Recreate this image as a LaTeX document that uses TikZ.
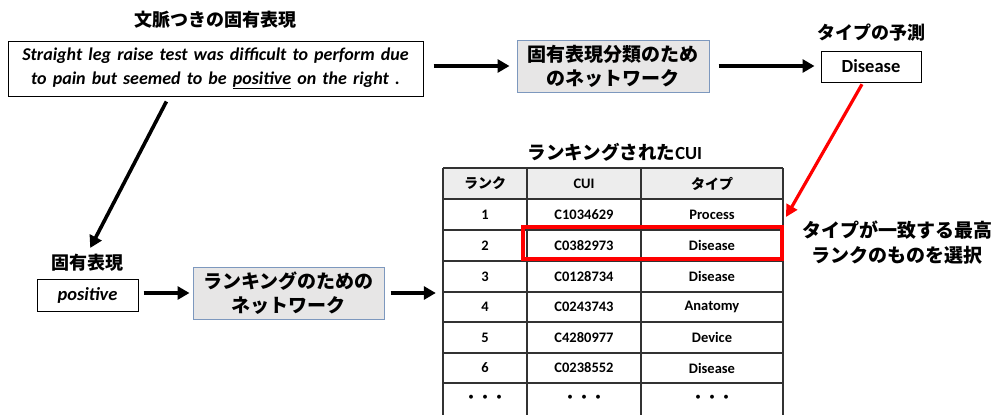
\documentclass[tikz,border=0pt]{standalone}
\usepackage{fontspec}
\setmainfont{Carlito}
\newfontfamily\cwide{Carlito}[WordSpace=1.5]
\newfontfamily\jp{Noto Sans CJK JP}
\usetikzlibrary{arrows.meta}
\definecolor{netgray}{RGB}{231,230,230}
\definecolor{netblue}{RGB}{125,152,190}
\definecolor{hdrgray}{RGB}{237,237,237}
\definecolor{gridc}{RGB}{50,50,50}
\begin{document}
\begin{tikzpicture}[x=1pt,y=-1pt,
 arr/.style={line width=3.6pt, -{Triangle[length=12pt,width=13pt]}},
 redarr/.style={line width=3.2pt, red, -{Triangle[length=12pt,width=12pt]}},
 plainbox/.style={draw, line width=1pt, inner sep=0pt, align=center},
 netbox/.style={draw=netblue, fill=netgray, line width=1pt, inner sep=0pt, align=center, font=\jp\bfseries\fontsize{19}{24}\selectfont},
 jplabel/.style={font=\jp\bfseries\fontsize{18}{24}\selectfont, inner sep=0pt, align=center},
 cell/.style={font=\bfseries\fontsize{14.5}{16}\selectfont, inner sep=0pt},
 jcell/.style={font=\jp\bfseries\fontsize{14}{16}\selectfont, inner sep=0pt},
 gridline/.style={draw=gridc, line width=1.2pt},
]
\useasboundingbox (0,0) rectangle (995,415);

% top row
\node[jplabel] (ctxt) at (215,20) {文脈つきの固有表現};
\node[plainbox, minimum width=415pt, minimum height=55pt, font=\cwide\bfseries\itshape\fontsize{18}{24}\selectfont] (ctx) at (215.5,68.5)
  {Straight leg raise test was difficult to perform due\\to pain but seemed to be \underline{positive} on the right .};
\node[netbox, minimum width=192pt, minimum height=52pt] (net1) at (613,66) {固有表現分類のため\\のネットワーク};
\node[jplabel] (predt) at (871,33) {タイプの予測};
\node[plainbox, minimum width=100pt, minimum height=31pt, font=\bfseries\fontsize{18.5}{20}\selectfont] (pred) at (871,66.5) {Disease};

% bottom left
\node[jplabel] (posl) at (87,263) {固有表現};
\node[plainbox, minimum width=101pt, minimum height=32pt, font=\bfseries\itshape\fontsize{18.5}{20}\selectfont] (pos) at (87.5,295) {positive};
\node[netbox, minimum width=191pt, minimum height=52pt] (net2) at (288.5,293) {ランキングのための\\ネットワーク};

% table
\node[font=\bfseries\fontsize{18.5}{20}\selectfont, inner sep=0pt] (tblt) at (615,152) {{\jp ランキングされた}CUI};
\node[minimum width=340pt, minimum height=247pt, inner sep=0pt] (tbl) at (613,291.5) {};
\fill[hdrgray] (443,168) rectangle (783,199);
\foreach \yy in {168,199,230,261,292,322,353,383} {
  \draw[gridline] (443,\yy) -- (783,\yy);
}
\foreach \xx in {443,527,641,783} {
  \draw[gridline] (\xx,168) -- (\xx,415);
}
\node[jcell] (h1) at (485,183.5) {ランク};
\node[cell]  (h2) at (584,183.5) {CUI};
\node[jcell] (h3) at (712,183.5) {タイプ};
\foreach \r/\yy/\cui/\typ in {1/214.5/C1034629/Process, 2/245.5/C0382973/Disease, 3/276.5/C0128734/Disease, 4/307/C0243743/Anatomy, 5/337.5/C4280977/Device, 6/368/C0238552/Disease} {
  \node[cell] (r\r a) at (485,\yy) {\r};
  \node[cell] (r\r b) at (584,\yy) {\cui};
  \node[cell] (r\r c) at (712,\yy) {\typ};
}
\node[jcell] (d1) at (485,399) {・・・};
\node[jcell] (d2) at (584,399) {・・・};
\node[jcell] (d3) at (712,399) {・・・};

% selection
\node[draw=red, line width=3.5pt, minimum width=259pt, minimum height=32pt, inner sep=0pt] (sel) at (652.5,243) {};
\node[jplabel, font=\jp\bfseries\fontsize{19}{25}\selectfont] (selt) at (897,243) {タイプが一致する最高\\ランクのものを選択};
\coordinate (redtip) at (786,217);

% arrows
\draw[arr, shorten <=10pt, shorten >=7pt] (ctx.east |- net1.west) -- (net1.west);
\draw[arr, shorten <=9pt, shorten >=6pt] (net1.east) -- (pred.west |- net1.east);
\draw[redarr, shorten <=2pt] ([xshift=-8pt]pred.south) -- (redtip);
\draw[arr, shorten <=5.6pt, shorten >=7pt] ([xshift=-46.5pt]ctx.south) -- (posl.north);
\draw[arr, shorten <=5pt, shorten >=3pt] (pos.east |- net2.west) -- (net2.west);
\draw[arr, shorten <=6pt, shorten >=7pt] (net2.east) -- (tbl.west |- net2.east);
\end{tikzpicture}
\end{document}
